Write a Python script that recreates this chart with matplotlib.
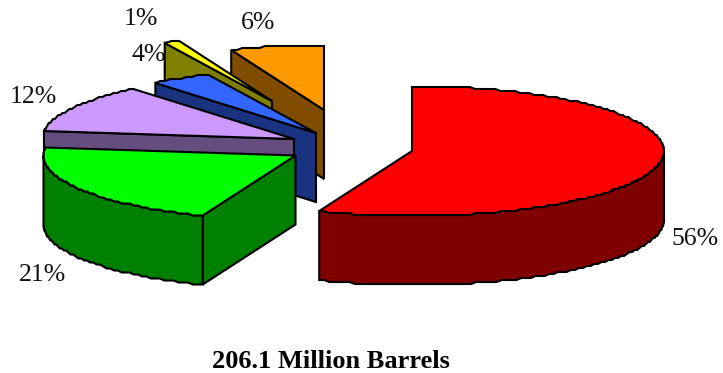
import numpy as np
import matplotlib
matplotlib.use("Agg")
import matplotlib.pyplot as plt
from matplotlib.patches import Polygon

shares = [56, 21, 12, 4, 1, 6]
labels = ["56%", "21%", "12%", "4%", "1%", "6%"]
top_colors = ["#ff0000", "#00ff00", "#cc99ff", "#3366ff", "#ffff00", "#ff9900"]
side_colors = ["#800000", "#008000", "#664d80", "#1a3380", "#808000", "#804d00"]
caption = "206.1 Million Barrels"

# pulled-out slice offsets from the pie centre, in pixels
offsets = [(55, 2), (-61.5, 6.5), (-63, -10), (-41, -16), (-85, -48), (-33, -39)]
label_pos = [(695, 239), (42, 275), (33, 97), (149, 55), (141, 19), (258, 23)]

# pie geometry in pixels
cx, cy = 357, 149
rx, ry = 252, 65
depth = 69
edge = dict(edgecolor="black", linewidth=1.5, joinstyle="miter")

plt.rcParams["font.family"] = ["Liberation Serif", "DejaVu Serif"]

fig = plt.figure(figsize=(7.23, 3.73), dpi=100)
ax = fig.add_axes([0, 0, 1, 1])
ax.set_xlim(0, 723)
ax.set_ylim(373, 0)
ax.axis("off")


def rim(x0, y0, a0, a1):
    # outer arc, stepped a little like a low-res vector export
    n = max(int(abs(a1 - a0) / 1.2), 2)
    a = np.radians(np.linspace(a0, a1, n))
    x = x0 + rx * np.sin(a)
    y = y0 - np.round(ry * np.cos(a) / 2) * 2
    return np.column_stack([x, y])


angles = np.cumsum([0] + shares) * 3.6

# back slices first, red last so it sits in front
for i in (5, 4, 3, 2, 1, 0):
    a0, a1 = angles[i], angles[i + 1]
    x0, y0 = cx + offsets[i][0], cy + offsets[i][1]
    # wall along the first cut, only seen on the left half
    if a0 > 180:
        p = rim(x0, y0, a0, a0)[0]
        wall = [(x0, y0), p, (p[0], p[1] + depth), (x0, y0 + depth)]
        ax.add_patch(Polygon(wall, closed=True, facecolor=side_colors[i], **edge))
    # curved outer wall on the front half
    lo, hi = max(a0, 90), min(a1, 270)
    if hi > lo:
        arc = rim(x0, y0, lo, hi)
        outer = np.vstack([arc, arc[::-1] + [0, depth]])
        ax.add_patch(Polygon(outer, closed=True, facecolor=side_colors[i], **edge))
    top = np.vstack([[x0, y0], rim(x0, y0, a0, a1)])
    ax.add_patch(Polygon(top, closed=True, facecolor=top_colors[i], **edge))

for txt, (x, y) in zip(labels, label_pos):
    ax.text(x, y, txt, fontsize=18.5, color="#111111", ha="center", va="center")

ax.text(331, 361, caption, fontsize=19, fontweight="bold", color="black",
        ha="center", va="center")

fig.savefig("out.png", dpi=100, facecolor="white")
